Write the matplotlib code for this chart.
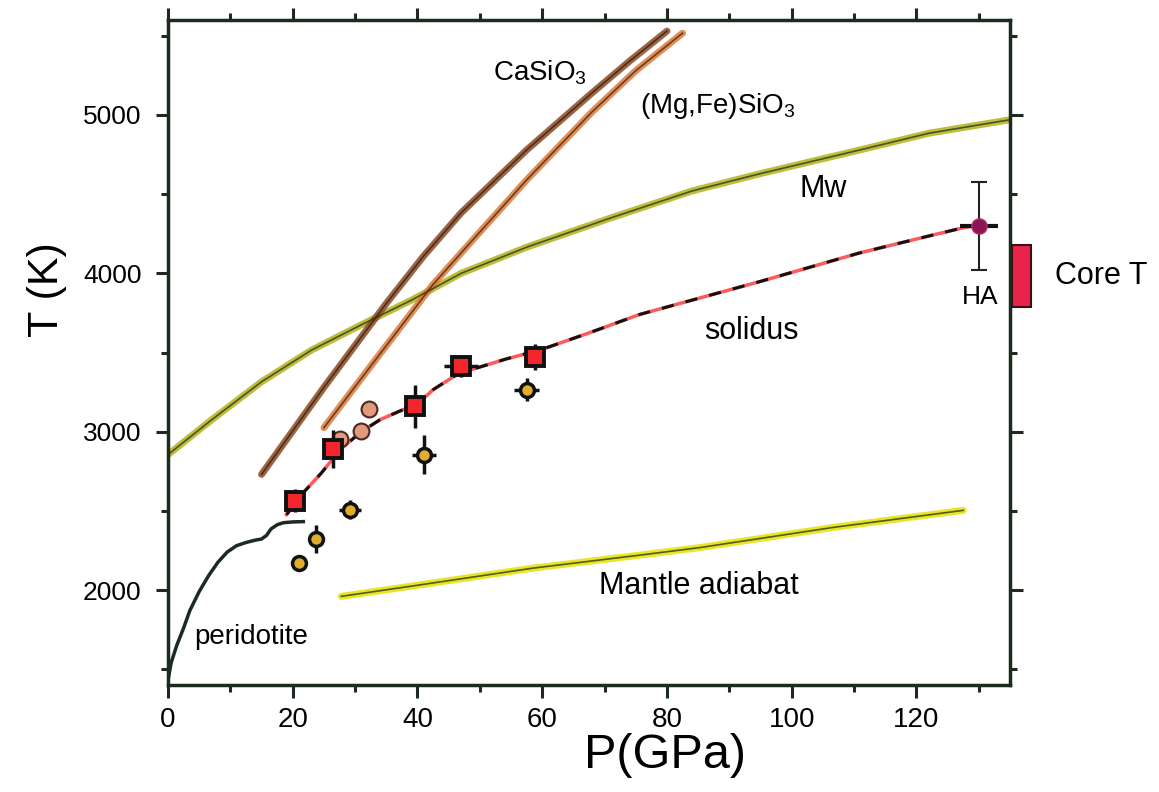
import matplotlib
matplotlib.use("Agg")
import matplotlib.pyplot as plt
from matplotlib.patches import Rectangle
from matplotlib.ticker import MultipleLocator

plt.rcParams['font.family'] = ['Liberation Sans', 'DejaVu Sans']
plt.rcParams['mathtext.default'] = 'regular'

# Melting curves, P in GPa, T in K
mw_P = [0, 7, 15, 23, 31, 39, 47, 57.5, 71, 84, 95, 111, 122, 135]
mw_T = [2855, 3075, 3315, 3515, 3675, 3830, 4000, 4165, 4350, 4520, 4630, 4780, 4885, 4970]

casio3_P = [15, 25, 35, 41, 47, 57.5, 68, 74, 80]
casio3_T = [2730, 3280, 3810, 4110, 4382, 4779, 5140, 5340, 5530]

pv_P = [25, 33, 42.5, 47, 57.5, 68, 75, 82.5]
pv_T = [3025, 3440, 3930, 4129, 4590, 5020, 5280, 5517]

perid_P = [0, 0.5, 1.4, 2.5, 3.5, 5, 6.5, 8, 9.5, 11, 12.5, 14, 15, 15.8, 16.5, 17.5, 18.5, 20, 21.7]
perid_T = [1430, 1540, 1650, 1760, 1870, 1990, 2090, 2175, 2240, 2280, 2300, 2315, 2322, 2345, 2385, 2412, 2425, 2430, 2432]

solidus_P = [19, 21.7, 24.6, 27.6, 30.8, 34, 37.7, 39.9, 42.5, 46.3, 48.9, 54.3, 59.6, 67.6, 75.6, 94.9, 110.9, 121.6, 127.4, 130]
solidus_T = [2476, 2615, 2739, 2886, 2994, 3076, 3139, 3170, 3265, 3360, 3395, 3460, 3515, 3625, 3740, 3948, 4129, 4232, 4287, 4306]

adiabat_P = [27.8, 40, 58.5, 75.6, 85.3, 106.6, 127.5]
adiabat_T = [1960, 2030, 2138, 2220, 2268, 2395, 2503]

# Experimental points
red_P = [20.4, 26.5, 39.6, 47.0, 58.8]
red_T = [2565, 2893, 3160, 3415, 3471]
red_Perr = [1.2, 1.0, 1.5, 2.7, 1.3]
red_Terr = [75, 120, 137, 70, 80]

gold_P = [21.0, 23.7, 29.2, 41.1, 57.5]
gold_T = [2172, 2323, 2508, 2855, 3265]
gold_Perr = [0.8, 0.8, 1.8, 1.9, 2.0]
gold_Terr = [50, 90, 60, 124, 74]

salmon_P = [27.6, 30.9, 32.2]
salmon_T = [2954, 3006, 3143]

ha_P, ha_T = 130, 4300
ha_Perr, ha_Terr = 3, 280

core_T = [3790, 4180]

fig = plt.figure(figsize=(11.59, 7.92), dpi=100)
ax = fig.add_axes([168/1159, (792-685)/792, (1010-168)/1159, (685-20)/792])

def marker_line(P, T, halo, core, lw=5):
    ax.plot(P, T, color=halo, lw=lw, alpha=0.85, solid_capstyle='round',
            solid_joinstyle='round', zorder=2)
    ax.plot(P, T, color=core, lw=1.2, alpha=0.8, solid_joinstyle='round', zorder=2.1)

marker_line(mw_P, mw_T, '#b3b21c', '#2e3a12')
marker_line(casio3_P, casio3_T, '#8a4a22', '#3a2010')
marker_line(pv_P, pv_T, '#dd7a3a', '#4a2a14')
marker_line(adiabat_P, adiabat_T, '#e4e000', '#2e3a12')

ax.plot(perid_P, perid_T, color='#1b2a22', lw=2.5, solid_joinstyle='round', zorder=2)

# solidus: red line with black dashes on top
ax.plot(solidus_P, solidus_T, color='#ff5a5a', lw=2.5, zorder=3)
ax.plot(solidus_P, solidus_T, color='#111111', lw=2.2, dashes=(4, 4), zorder=3.1)

ax.scatter(salmon_P, salmon_T, s=130, color='#e29a7c', edgecolor='#4a2a20', lw=1.5, zorder=4)

ax.errorbar(gold_P, gold_T, xerr=gold_Perr, yerr=gold_Terr, fmt='o', ms=10,
            mfc='#e0ad30', mec='#111111', mew=2.5, ecolor='#111111', elinewidth=2.5,
            capsize=0, zorder=5)
ax.errorbar(red_P, red_T, xerr=red_Perr, yerr=red_Terr, fmt='s', ms=13,
            mfc='#f2262c', mec='#111111', mew=2.8, ecolor='#111111', elinewidth=2.5,
            capsize=0, zorder=6)

# HA point
ax.errorbar(ha_P, ha_T, yerr=ha_Terr, fmt='none', ecolor='#222222', elinewidth=1.5,
            capsize=6, capthick=1.5, zorder=6)
ax.errorbar(ha_P, ha_T, xerr=ha_Perr, fmt='o', ms=11, mfc='#8c1450', mec='#b0306a',
            mew=1, ecolor='#111111', elinewidth=3, capsize=0, zorder=7)

ax.add_patch(Rectangle((135.4, core_T[0]), 2.9, core_T[1] - core_T[0],
                       facecolor='#e8244c', edgecolor='#3a1010', lw=1.5,
                       clip_on=False, zorder=8))

ax.set_xlim(0, 135)
ax.set_ylim(1400, 5600)

axc = '#1c2b1e'
for s in ax.spines.values():
    s.set_linewidth(2.5)
    s.set_color(axc)

ax.xaxis.set_major_locator(MultipleLocator(20))
ax.xaxis.set_minor_locator(MultipleLocator(10))
ax.yaxis.set_minor_locator(MultipleLocator(500))
ax.set_yticks([2000, 3000, 4000, 5000])
ax.tick_params(which='both', direction='out', top=True, right=True, color=axc, width=2.2)
ax.tick_params(which='major', length=9)
ax.tick_params(which='minor', length=5)
ax.tick_params(axis='y', labelsize=19, pad=10)
ax.tick_params(axis='x', labelsize=20, pad=7)

ax.set_xlabel('P(GPa)', fontsize=35)
ax.xaxis.set_label_coords(0.59, -0.072)
ax.set_ylabel('T (K)', fontsize=31)
ax.yaxis.set_label_coords(-0.12, 0.594)

ax.text(52.1, 5221, 'CaSiO$_3$', fontsize=20, ha='left', va='baseline')
ax.text(75.6, 5013, '(Mg,Fe)SiO$_3$', fontsize=20, ha='left', va='baseline')
ax.text(101.3, 4484, 'Mw', fontsize=22, ha='left', va='baseline')
ax.text(85.9, 3587, 'solidus', fontsize=22, ha='left', va='baseline')
ax.text(130.2, 3808, 'HA', fontsize=19, ha='center', va='baseline')
ax.text(142.2, 3934, 'Core T', fontsize=22, ha='left', va='baseline', clip_on=False)
ax.text(69.1, 1972, 'Mantle adiabat', fontsize=22, ha='left', va='baseline')
ax.text(4.2, 1656, 'peridotite', fontsize=20, ha='left', va='baseline')

fig.savefig('out.png', dpi=100)
